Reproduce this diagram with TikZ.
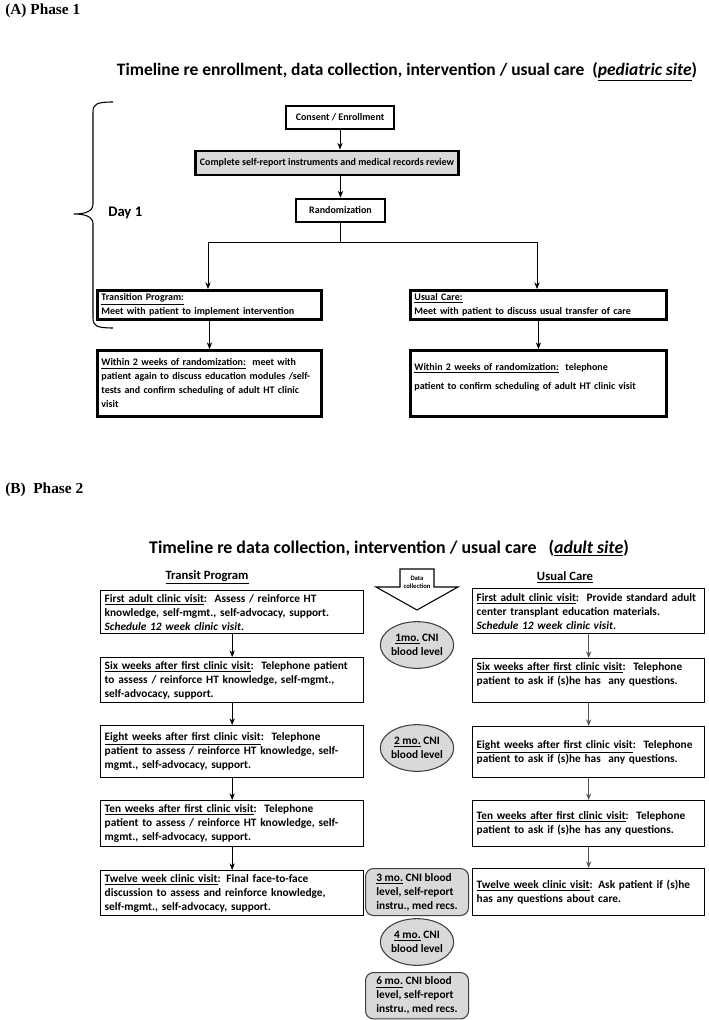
\documentclass[tikz,border=0pt]{standalone}
\usepackage{fontspec}
\setmainfont{Carlito}
\newfontfamily\phasefont{Liberation Serif}
\usetikzlibrary{arrows.meta,shapes.geometric}

\tikzset{
    phase/.style={font=\phasefont\bfseries\fontsize{11.5}{13}\selectfont, anchor=west, inner sep=0pt},
    headline/.style={font=\bfseries\fontsize{13.1}{15}\selectfont, inner sep=0pt},
    colhead/.style={font=\bfseries\fontsize{9.5}{11}\selectfont, inner sep=0pt},
    thickbox/.style={draw, line width=2.2pt, font=\bfseries\fontsize{7.5}{10.5}\selectfont, inner xsep=3pt, inner ysep=2pt, align=left},
    graybox/.style={thickbox, fill=black!15},
    stepbox/.style={draw, line width=1pt, font=\bfseries\fontsize{8.5}{10.5}\selectfont, inner xsep=3pt, inner ysep=2pt, align=left, anchor=north west},
    level/.style={ellipse, draw=black!75, line width=0.8pt, fill=black!15, font=\bfseries\fontsize{8.5}{10.5}\selectfont, align=center, inner sep=0pt, minimum width=52.5pt, minimum height=35pt},
    recs/.style={draw=black!75, line width=0.8pt, rounded corners=6pt, fill=black!15, font=\bfseries\fontsize{8.5}{10.5}\selectfont, align=left, anchor=north west, inner xsep=4pt, minimum width=77.25pt},
    arr/.style={-{Stealth[length=5pt,width=4pt]}, line width=0.6pt}
}

\begin{document}
\begin{tikzpicture}[x=0.75pt,y=-0.75pt]
    \useasboundingbox (0,0) rectangle (709,1020);
        %%%%%%%%%%%%%%%%%%%%%%%%%%%%%%%%%%%
        %%%Phase 1
        %%%%%%%%%%%%%%%%%%%%%%%%%%%%%%%%%%%
    \node[phase] (pa) at (5,11) {(A) Phase 1};
    \node[headline] (ta) at (407,72) {Timeline re enrollment, data collection, intervention / usual care~~(\underline{\textit{pediatric site}})};
        %draw day 1 steps
    \node[thickbox, minimum width=81pt, minimum height=17.25pt] (consent) at (340,117.5) {Consent / Enrollment};
    \node[graybox, minimum width=195pt, minimum height=18pt] (selfrep) at (327,163) {Complete self-report instruments and medical records review};
    \node[thickbox, minimum width=66.75pt, minimum height=17.25pt] (rand) at (340.5,210.5) {Randomization};
    \coordinate (splitl) at (208,242);
    \coordinate (splitr) at (537,242);
    \node[thickbox, anchor=north west, text width=162pt, minimum height=21.75pt] (trans) at (96,289) {\underline{Transition Program:}\\ Meet with patient to implement intervention};
    \node[thickbox, anchor=north west, text width=186pt, minimum height=21.75pt] (usual) at (409,289) {\underline{Usual Care:}\\ Meet with patient to discuss usual transfer of care};
    \node[thickbox, anchor=north west, text width=162pt, minimum height=49.5pt] (withinl) at (96,349) {\underline{Within 2 weeks of randomization:}~~meet with\\ patient again to discuss education modules /self-\\ tests and confirm scheduling of adult HT clinic\\ visit};
    \node[thickbox, anchor=north west, text width=186pt, minimum height=49.5pt] (withinr) at (409,349) {\underline{Within 2 weeks of randomization:}~~telephone\\[4pt] patient to confirm scheduling of adult HT clinic visit\\ ~};
        %draw brace
    \draw[line width=0.8pt] (113,102) .. controls (97,102) and (93,104) .. (93,112) -- (93,204)
        .. controls (93,211) and (86,214) .. (74,214) .. controls (86,214) and (93,217) .. (93,224)
        -- (93,318) .. controls (93,326) and (97,328) .. (113,328);
    \node[font=\bfseries\fontsize{11}{12}\selectfont, anchor=west, inner sep=0pt] (day) at (108,213) {Day 1};
        %draw arrows
    \draw[arr] (consent) -- (consent |- selfrep.north);
    \draw[arr] (rand |- selfrep.south) -- (rand);
    \draw[arr] (rand.south) |- (splitl) -- (splitl |- trans.north);
    \draw[arr] (rand.south) |- (splitr) -- (splitr |- usual.north);
    \draw[arr] (trans) -- (withinl);
    \draw[arr] (usual) -- (withinr);
        %%%%%%%%%%%%%%%%%%%%%%%%%%%%%%%%%%%
        %%%Phase 2
        %%%%%%%%%%%%%%%%%%%%%%%%%%%%%%%%%%%
    \node[phase] (pb) at (5,490) {(B)~~Phase 2};
    \node[headline, font=\bfseries\fontsize{13.4}{15}\selectfont] (tb) at (389,548) {Timeline re data collection, intervention / usual care~~~(\underline{\textit{adult site}})};
    \node[colhead] (hl) at (207,577) {\underline{Transit Program}};
    \node[colhead] (hr) at (565,577) {\underline{Usual Care}};
        %draw data collection arrow
    \draw[line width=0.8pt] (400,569) -- (434,569) -- (434,587) -- (458,587) -- (417,610) -- (376,587) -- (400,587) -- cycle;
    \node[font=\bfseries\fontsize{5}{6}\selectfont, align=center, fill=white, inner sep=0.5pt] (data) at (417,582) {Data\\collection};
        %draw transition program column
    \node[stepbox, text width=191.25pt, minimum height=32.25pt] (l1) at (100,590) {\underline{First adult clinic visit}:~~Assess / reinforce HT\\ knowledge, self-mgmt., self-advocacy, support.\\ \textit{Schedule 12 week clinic visit}.};
    \node[stepbox, text width=191.25pt, minimum height=33.75pt] (l2) at (100,657) {\underline{Six weeks after first clinic visit}:~~Telephone patient\\ to assess / reinforce HT knowledge, self-mgmt.,\\ self-advocacy, support.};
    \node[stepbox, text width=191.25pt, minimum height=39pt] (l3) at (100,725) {\underline{Eight weeks after first clinic visit}:~~Telephone\\ patient to assess / reinforce HT knowledge, self-\\ mgmt., self-advocacy, support.};
    \node[stepbox, text width=191.25pt, minimum height=34.5pt] (l4) at (100,800) {\underline{Ten weeks after first clinic visit}:~~Telephone\\ patient to assess / reinforce HT knowledge, self-\\ mgmt., self-advocacy, support.};
    \node[stepbox, text width=191.25pt, minimum height=33.75pt] (l5) at (100,870) {\underline{Twelve week clinic visit}: Final face-to-face\\ discussion to assess and reinforce knowledge,\\ self-mgmt., self-advocacy, support.};
    \foreach \a/\b in {l1/l2,l2/l3,l3/l4,l4/l5}
        \draw[arr] (\a) -- (\b);
        %draw usual care column
    \node[stepbox, text width=168pt, minimum height=33.75pt] (r1) at (472,588) {\underline{First adult clinic visit}:~~Provide standard adult\\ center transplant education materials.\\ \textit{Schedule 12 week clinic visit}.};
    \node[stepbox, text width=168pt, minimum height=33pt] (r2) at (472,658) {\underline{Six weeks after first clinic visit}:~~Telephone\\ patient to ask if (s)he has~~any questions.\\ ~};
    \node[stepbox, text width=168pt, minimum height=38.25pt] (r3) at (472,726) {\underline{Eight weeks after first clinic visit}:~~Telephone\\ patient to ask if (s)he has~~any questions.};
    \node[stepbox, text width=168pt, minimum height=34.5pt] (r4) at (472,800) {\underline{Ten weeks after first clinic visit}:~~Telephone\\ patient to ask if (s)he has any questions.};
    \node[stepbox, text width=168pt, minimum height=35.25pt] (r5) at (472,868) {\underline{Twelve week clinic visit}: Ask patient if (s)he\\ has any questions about care.};
    \foreach \a/\b in {r1/r2,r2/r3,r3/r4,r4/r5}
        \draw[arr, black!65] (\a) -- (\b);
        %draw data collection column
    \node[level] (m1) at (417,645) {\underline{1mo.} CNI\\blood level};
    \node[level] (m2) at (417,748) {\underline{2 mo.} CNI\\blood level};
    \node[recs, minimum height=35.25pt] (m3) at (365,868) {\underline{3 mo.} CNI blood\\level, self-report\\instru., med recs.};
    \node[level] (m4) at (417,942) {\underline{4 mo.} CNI\\blood level};
    \node[recs, minimum height=34.5pt] (m6) at (365,972) {\underline{6 mo.} CNI blood\\level, self-report\\instru., med recs.};
\end{tikzpicture}
\end{document}
